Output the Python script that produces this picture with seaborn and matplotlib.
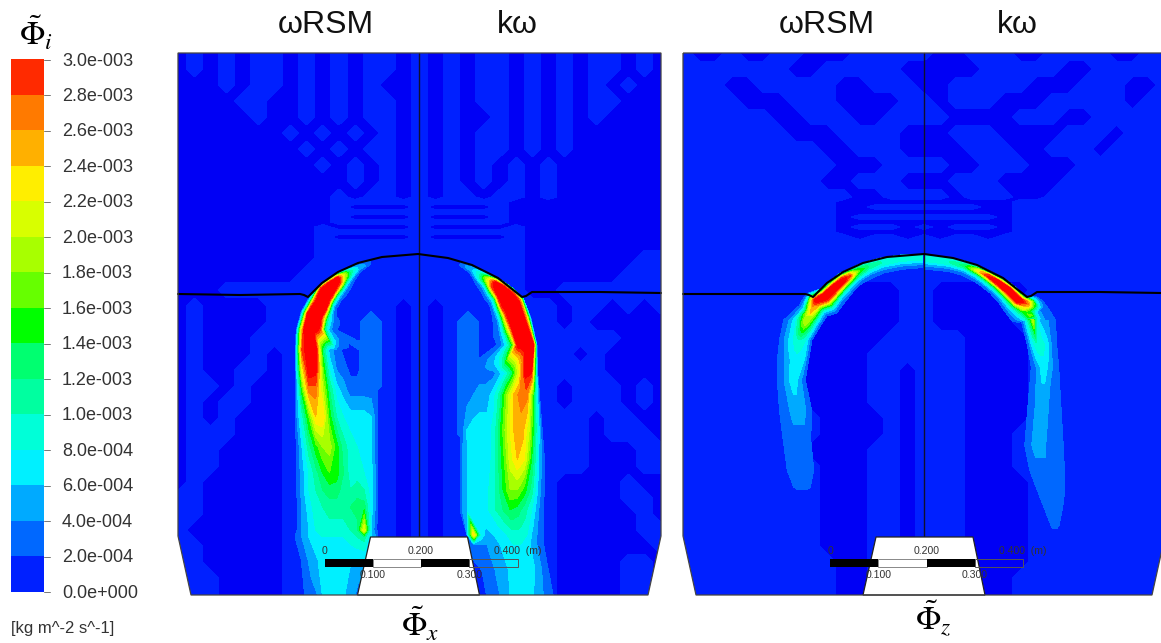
import numpy as np
import matplotlib
matplotlib.use("Agg")
import matplotlib.pyplot as plt
from matplotlib.colors import ListedColormap
from matplotlib.patches import Polygon
import seaborn as sns

# ---------- legend ----------
LEGEND_LABELS = ["3.0e-003", "2.8e-003", "2.6e-003", "2.4e-003", "2.2e-003", "2.0e-003", "1.8e-003", "1.6e-003",
                 "1.4e-003", "1.2e-003", "1.0e-003", "8.0e-004", "6.0e-004", "4.0e-004", "2.0e-004", "0.0e+000"]
LEGEND_BANDS = [29, 27, 25, 23, 21, 19, 17, 15, 13, 11, 9, 7, 5, 3, 1]
BAND_COLORS = ["#ff2a00", "#ff7a00", "#ffb000", "#ffee00", "#d8ff00", "#a8ff00", "#66ff00", "#00ff00",
               "#00ff70", "#00ffa0", "#00ffd8", "#00f0ff", "#00aaff", "#0068ff", "#0020ff"]
DEEP_BLUE = "#0000f5"
MID_BLUE = "#0020ff"
LIGHT_BLUE = "#0068ff"
CORE_RED = "#ff0000"
BASE_LEVELS = [0, 1, 2, 4]
JET_LEVELS = [2, 4, 6, 8, 10, 12, 14, 16, 18, 20, 22, 24, 26, 28, 30, 40]

# ---------- background field, one character per grid node (. deep, - mid, + light) ----------
BASE_Y = [53, 69, 85, 101, 117, 133, 149, 165, 181, 197, 202, 207, 212, 217, 222, 227, 232, 237, 242,
          258, 274, 290, 306, 322, 338, 354, 370, 386, 402, 418, 434, 450, 466, 482, 498, 514, 530, 546, 562, 578, 596]
BASE_LEFT = [
    ".-.-.--.-.-.--.-.-.--.-.-.--.-.",
    ".-.-.--.-.-.--.-.-.--.-.-.--.-.",
    "...-.--.-.-.-..-.-.--.-.-.-.-..",
    "....--..-.-.--.-.-.--.-.-.--...",
    ".....-..-.-.--.-.-..-.-.-.-....",
    ".......-.-.-.-.-.-.--.-.-......",
    "........-.-.--.-.-.--.-.-......",
    ".........-.-.-.-.-.-.-.-.......",
    "...........-.-.-.-.-.-.-.......",
    "..........-.--.-.--.--.-.......",
    "..........-----------..........",
    "..........-....-....-..........",
    "..........-----------..........",
    "..........-....-....-..........",
    "..........-----------..........",
    ".........-.....-.....-.........",
    ".........-------------.........",
    ".........-.....-.....-.........",
    ".........-------------.........",
    ".........-------------.......--",
    "........--------------......---",
    "...-------------------..-------",
    ".-....--------.-.-------.--.-.-",
    ".-....------+-.-.-+-----.-.....",
    ".-...-------+-.-.-+---------...",
    ".-...-.-----+-.-.-+------.-....",
    ".-..--.-----+-.-.-+--------....",
    ".--.-..-----+-.-.-+-----.---.-.",
    ".-.--..-------.-.-+-----.---.-.",
    ".-.-...-------.-.-+-------.--..",
    ".---...-------.-.-+-------.---.",
    ".--....-------.-.---------...---.",
    ".--....-------.-.---------...---.",
    ".-.....-------.-.-------....-..",
    "--.....-------.-.-------....--.",
    "--.....-------.-.-------.....-.",
    "-......-------.-.-------.....--",
    "--.....-------.-.-------......-",
    "--.....-------.-.-------....--.",
    "---....-------.-.-------....--.",
    "---....-------.-.-------....--.",
]
BASE_RIGHT = [
    "-..-..--...-----..---..----..--",
    "-------..-----.....-----..-----",
    "---..-----..---..-----...---..-",
    "----...---....--.---...-----.--",
    "------..---..----....---..-----",
    "-------...----...---....---.---",
    "---------..---....---..---.----",
    "----------...----..---...------",
    "---------..---...---....-------",
    "-----------..----.---..--------",
    "----------...........----------",
    "----------..-------..----------",
    "----------...........----------",
    "----------.---------.----------",
    "----------...........----------",
    "----------.---.-.---.----------",
    "----------...........----------",
    "-----------.--.-.--.-----------",
    "-------------------------------",
    "-------------------------------",
    "-------------------------------",
    "----------....--......---------",
    "---------.....--.....----------",
    "--------......--.....----------",
    "--------.....-----....---------",
    "--------....------....---------",
    "--------....--.---....---------",
    "--------....--.---....---------",
    "--------....--.---....---------",
    "---------....-.---....---------",
    "---------....-.---...----------",
    "--------....--.---...----------",
    "---------...--.---...----------",
    "---------...--.---....---------",
    "---------...--.---....---------",
    "---------...--.---....---------",
    "---------...--.---....---------",
    "---------...--.---....---------",
    "----------..------....---------",
    "----------..-------..----------",
    "----------..-------..----------",
]
BASE_VALUE = {".": 0.5, "-": 1.5, "+": 3.0}

# ---------- plume sections: outer end, inner end, values in 1e-4 at 13 stations ----------
J1_OX = [370, 358, 349, 342, 335, 327, 319, 309, 301, 296, 295, 295, 295, 295, 295, 295, 295, 295, 295, 295, 298, 298]
J1_OY = [260, 263, 267, 270, 274, 280, 286, 297, 312, 330, 350, 370, 390, 417, 447, 473, 490, 507, 530, 537, 560, 596]
J1_IX = [372, 362, 355, 351, 347, 342, 338, 338, 340, 345, 378, 378, 378, 378, 378, 378, 378, 378, 378, 378, 378, 378]
J1_IY = [268, 276, 284, 291, 297, 303, 311, 318, 322, 330, 350, 370, 390, 417, 447, 473, 490, 507, 530, 537, 560, 596]
J1_V = [
    [0, 1, 2, 3, 3, 3, 2, 1, 0, 0, 0, 0, 0],
    [1, 3, 4, 5, 5, 5, 4, 3, 2, 1, 0, 0, 0],
    [2, 5, 9, 11, 11, 10, 8, 6, 4, 3, 2, 1, 0],
    [3, 10, 18, 21, 20, 17, 13, 9, 6, 4, 3, 2, 0],
    [6, 20, 31, 32, 31, 28, 22, 15, 9, 5, 3, 2, 0],
    [10, 26, 33, 33, 33, 33, 30, 22, 12, 7, 4, 2, 1],
    [12, 28, 33, 33, 33, 33, 32, 28, 16, 8, 4, 2, 1],
    [1, 10, 26, 32, 33, 33, 33, 30, 18, 8, 4, 3, 1],
    [1, 14, 30, 33, 33, 33, 32, 24, 12, 7, 4, 3, 2],
    [1, 18, 31, 33, 33, 32, 28, 12, 6, 3, 2, 1, 1],
    [1, 28, 33, 32, 13, 5, 3, 1.5, 1.5, 1.5, 3, 3, 3],
    [1, 22, 32, 31, 17, 8, 4, 3, 1.5, 1.5, 3, 3, 3],
    [1, 15, 27, 27, 20, 12, 7, 5, 3, 3, 3, 3, 3],
    [2, 9, 16, 24, 24, 15, 10, 8, 7, 7, 7, 6, 2],
    [1, 6, 11, 15, 18, 19, 15, 11, 9, 8, 7, 6, 2],
    [1, 5, 8, 11, 14, 16, 15, 12, 9, 9, 8, 7, 2],
    [1, 5, 8, 10, 12, 13, 13, 11, 10, 11, 10, 7, 2],
    [1, 4, 7, 9, 10, 11, 11, 11, 12, 13, 13, 7, 2],
    [1, 4, 6, 8, 9, 9, 9, 9, 10, 11, 22, 6, 1],
    [2, 4, 6, 7, 8, 8, 8, 8, 9, 10, 11, 6, 3],
    [1, 3, 5, 6, 7, 7, 7, 7, 6, 6, 6, 5, 3],
    [1, 2, 3, 4, 7, 7, 7, 6, 5, 3, 3, 3, 3],
]
J2_OX = [461, 473, 482, 490, 498, 507, 516, 523, 531, 537, 538, 540, 543, 546, 546, 546, 547, 547, 555, 560]
J2_OY = [261, 265, 270, 274, 278, 284, 291, 298, 318, 345, 373, 395, 430, 460, 490, 510, 535, 545, 570, 596]
J2_IX = [458, 468, 474, 480, 483, 488, 490, 492, 493, 497, 460, 460, 460, 460, 460, 460, 467, 467, 475, 480]
J2_IY = [270, 277, 286, 293, 300, 307, 317, 325, 335, 345, 373, 395, 430, 460, 490, 510, 535, 545, 570, 596]
J2_V = [
    [0, 1, 2, 3, 3, 3, 2, 1, 0, 0, 0, 0, 0],
    [1, 3, 4, 5, 5, 5, 4, 3, 2, 1, 0, 0, 0],
    [2, 5, 9, 10, 10, 9, 8, 6, 4, 3, 2, 1, 0],
    [3, 10, 18, 20, 20, 17, 13, 9, 6, 4, 3, 2, 0],
    [6, 20, 30, 31, 30, 28, 22, 15, 9, 5, 3, 2, 0],
    [10, 26, 33, 33, 33, 33, 30, 22, 12, 7, 4, 2, 1],
    [12, 28, 33, 33, 33, 33, 32, 28, 16, 8, 4, 2, 1],
    [8, 26, 33, 33, 33, 33, 33, 28, 18, 8, 4, 3, 1],
    [2, 22, 33, 33, 33, 33, 32, 24, 16, 8, 4, 3, 2],
    [2, 30, 33, 33, 33, 33, 30, 18, 12, 8, 5, 3, 2],
    [1, 30, 31, 21, 13, 8, 5, 3, 3, 3, 3, 3, 3],
    [1, 15, 27, 27, 24, 18, 11, 7, 5, 5, 4, 3, 2],
    [1, 10, 20, 25, 25, 21, 15, 9, 7, 7, 7, 6, 2],
    [1, 6, 14, 22, 24, 21, 15, 10, 7, 7, 7, 6, 3],
    [1, 5, 11, 15, 18, 18, 14, 10, 8, 8, 7, 6, 3],
    [1, 4, 8, 11, 13, 14, 12, 10, 8, 8, 7, 6, 3],
    [1, 3, 5, 8, 9, 9, 8, 7, 6, 5, 8, 24, 4],
    [1, 3, 5, 7, 8, 8, 7, 6, 5, 4, 4, 3, 3],
    [1, 2, 4, 6, 7, 7, 7, 6, 5, 4, 3, 2, 1],
    [1, 2, 3, 5, 6, 7, 7, 7, 5, 4, 3, 2, 1],
]
J3_OX = [923, 900, 880, 866, 855, 847, 840, 830, 820, 808, 798, 782, 778, 776, 776, 778, 782, 786, 792, 798]
J3_OY = [254, 255, 258, 262, 266, 270, 273, 281, 289, 293, 305, 320, 340, 360, 380, 410, 440, 470, 487, 492]
J3_IX = [923, 903, 885, 875, 866, 860, 854, 848, 840, 832, 828, 824, 815, 810, 808, 813, 812, 815, 812, 807]
J3_IY = [272, 274, 278, 283, 288, 293, 300, 306, 318, 322, 325, 323, 340, 360, 380, 410, 440, 470, 487, 492]
J3_V = [
    [5, 8, 9, 9, 8, 7, 5, 4, 3, 2, 1, 0, 0],
    [5, 8, 9, 9, 8, 7, 5, 4, 3, 2, 1, 0, 0],
    [4, 8, 10, 10, 9, 7, 5, 4, 3, 2, 1, 0, 0],
    [4, 9, 12, 12, 10, 8, 6, 4, 3, 2, 1, 0, 0],
    [4, 11, 15, 17, 14, 11, 8, 5, 3, 2, 1, 0, 0],
    [5, 14, 24, 28, 24, 16, 10, 6, 4, 2, 1, 0, 0],
    [5, 16, 28, 32, 30, 22, 14, 8, 5, 3, 1, 0, 0],
    [5, 18, 30, 33, 33, 26, 18, 10, 6, 3, 2, 1, 0],
    [4, 16, 30, 33, 32, 27, 19, 12, 7, 4, 2, 1, 0],
    [3, 9, 22, 30, 30, 26, 18, 11, 6, 3, 1, 0, 0],
    [1, 3, 6, 12, 20, 24, 20, 15, 9, 5, 2, 1, 0],
    [1, 3, 4, 6, 8, 12, 18, 20, 17, 12, 7, 3, 1],
    [1, 3, 4, 5, 7, 8, 9, 10, 9, 8, 5, 2, 1],
    [1, 3, 4, 4, 5, 6, 7, 7, 7, 7, 6, 3, 1],
    [1, 3, 3, 4, 5, 6, 7, 7, 6, 5, 3, 2, 1],
    [1, 3, 3, 3, 4, 5, 5, 5, 5, 5, 3, 3, 1],
    [1, 3, 3, 3, 3, 3, 3, 3, 3, 3, 3, 3, 1],
    [1, 3, 3, 3, 3, 3, 3, 3, 3, 3, 3, 3, 1],
    [1, 2, 3, 3, 3, 3, 3, 3, 3, 3, 3, 2, 1],
    [1, 1, 1, 1, 1, 1, 1, 1, 1, 1, 1, 1, 1],
]
J4_OX = [925, 950, 965, 979, 990, 1002, 1013, 1025, 1037, 1048, 1057, 1058, 1060, 1062, 1065, 1066, 1065, 1060, 1056]
J4_OY = [255, 258, 261, 266, 271, 278, 285, 296, 297, 305, 320, 345, 367, 400, 445, 470, 500, 525, 532]
J4_IX = [925, 948, 961, 970, 978, 986, 993, 1000, 1005, 1014, 1021, 1026, 1030, 1027, 1023, 1028, 1040, 1050, 1053]
J4_IY = [274, 276, 280, 285, 291, 298, 307, 316, 327, 325, 320, 345, 367, 400, 445, 470, 500, 525, 532]
J4_V = [
    [5, 9, 10, 10, 8, 7, 5, 4, 3, 2, 1, 0, 0],
    [5, 9, 10, 10, 9, 7, 5, 4, 3, 2, 1, 0, 0],
    [4, 9, 11, 13, 11, 8, 6, 4, 3, 2, 1, 0, 0],
    [5, 12, 20, 22, 17, 11, 7, 5, 3, 2, 1, 0, 0],
    [5, 15, 28, 30, 22, 14, 9, 6, 3, 2, 1, 0, 0],
    [6, 20, 31, 33, 28, 18, 11, 7, 4, 2, 1, 0, 0],
    [6, 20, 33, 33, 30, 20, 12, 7, 4, 2, 1, 0, 0],
    [5, 20, 32, 33, 30, 21, 13, 8, 5, 3, 1, 0, 0],
    [3, 8, 20, 26, 24, 20, 13, 8, 5, 3, 1, 0, 0],
    [1, 3, 3, 4, 6, 10, 18, 15, 10, 6, 3, 1, 0],
    [1, 3, 3, 4, 4, 5, 6, 10, 20, 14, 9, 5, 2],
    [1, 3, 3, 5, 7, 8, 9, 9, 9, 8, 6, 3, 1],
    [1, 3, 3, 4, 5, 6, 7, 7, 6, 5, 3, 3, 1],
    [1, 3, 3, 3, 3, 5, 5, 5, 5, 4, 3, 3, 1],
    [1, 3, 3, 3, 3, 3, 5, 5, 5, 5, 3, 3, 1],
    [1, 3, 3, 3, 3, 3, 3, 3, 3, 3, 3, 3, 1],
    [1, 3, 3, 3, 3, 3, 3, 3, 3, 3, 3, 3, 1],
    [1, 2, 3, 3, 3, 3, 3, 3, 3, 3, 3, 2, 1],
    [1, 1, 1, 1, 1, 1, 1, 1, 1, 1, 1, 1, 1],
]

# ---------- free surface ----------
SURF1_X = [178, 240, 300, 304, 308, 312, 322, 338, 358, 382, 418, 448, 472, 498, 522, 526, 532, 600, 661]
SURF1_Y = [294, 295, 294, 295, 297, 293, 283, 272, 263, 257, 254, 258, 265, 278, 297, 296, 292, 292, 293]
SURF2_X = [683, 745, 805, 809, 813, 817, 827, 843, 863, 887, 924, 953, 977, 1003, 1027, 1031, 1037, 1100, 1161]
SURF2_Y = [294, 294, 294, 295, 297, 293, 283, 272, 263, 257, 254, 258, 265, 278, 297, 296, 292, 292, 293]

TITLES = ["ωRSM", "kω", "ωRSM", "kω"]
TITLE_X = [326, 517, 827, 1017]
BAR_LABELS = ["0", "0.200", "0.400  (m)", "0.100", "0.300"]

sns.set_theme(style="white")
plt.rcParams["font.family"] = ["Liberation Sans", "DejaVu Sans"]
plt.rcParams["mathtext.fontset"] = "stix"

fig = plt.figure(figsize=(11.61, 6.43), dpi=100, facecolor="white")
ax = fig.add_axes([0, 0, 1, 1])
ax.set_xlim(0, 1161)
ax.set_ylim(643, 0)
ax.axis("off")


def draw_panel(x0, x_center, x1, base_rows, jets, surf_x, surf_y):
    outline = Polygon([(x0, 53), (x1, 53), (x1, 536), (x1 - 13, 595), (x0 + 13, 595), (x0, 536)],
                      closed=True, fc="none", ec="#444444", lw=0.9, zorder=6)
    ax.add_patch(outline)
    clip = Polygon(outline.get_xy(), closed=True, transform=ax.transData)
    xs = np.linspace(x0, x1, 31)
    rows = [[BASE_VALUE[c] for c in r.ljust(31, ".")[:31]] for r in base_rows]
    cs = ax.contourf(xs, BASE_Y, np.array(rows), levels=BASE_LEVELS,
                     colors=[DEEP_BLUE, MID_BLUE, LIGHT_BLUE], zorder=1)
    cs.set_clip_path(clip)
    fractions = np.linspace(0, 1, 13)
    for ox, oy, ix, iy, vals in jets:
        ox, oy, ix, iy = map(np.array, (ox, oy, ix, iy))
        gx = ox[:, None] + (ix - ox)[:, None] * fractions
        gy = oy[:, None] + (iy - oy)[:, None] * fractions
        cj = ax.contourf(gx, gy, np.array(vals, float), levels=JET_LEVELS,
                         colors=BAND_COLORS[::-1][1:] + [CORE_RED], zorder=2)
        cj.set_clip_path(clip)
    # symmetry line, wall block, free surface
    ax.plot([x_center, x_center], [53, 537], color="#101030", lw=1.0, zorder=3)
    ax.plot(surf_x, surf_y, color="black", lw=1.5, zorder=4)
    c = x_center
    ax.add_patch(Polygon([(c - 48, 537), (c + 49, 537), (c + 61, 595), (c - 61, 595)], closed=True,
                         fc="white", ec="#222222", lw=0.9, zorder=5))
    # scale bar
    bx = c - 94
    seg = 48.3
    ax.add_patch(plt.Rectangle((bx, 559), seg, 8, fc="black", ec="none", zorder=7))
    ax.add_patch(plt.Rectangle((bx + seg, 559), seg, 8, fc="white", ec="#888888", lw=0.7, zorder=7))
    ax.add_patch(plt.Rectangle((bx + 2 * seg, 559), seg, 8, fc="black", ec="none", zorder=7))
    ax.add_patch(plt.Rectangle((bx + 3 * seg, 559), seg, 8, fc="none", ec="#555555", lw=0.7, zorder=7))
    tick = dict(fontsize=7.6, color="#333333", zorder=8, va="center")
    ax.text(bx, 551, BAR_LABELS[0], ha="center", **tick)
    ax.text(bx + 2 * seg, 551, BAR_LABELS[1], ha="center", **tick)
    ax.text(bx + 4 * seg - 24, 551, BAR_LABELS[2], ha="left", **tick)
    ax.text(bx + seg, 575, BAR_LABELS[3], ha="center", **tick)
    ax.text(bx + 3 * seg, 575, BAR_LABELS[4], ha="center", **tick)


draw_panel(178, 418.5, 661, BASE_LEFT,
           [(J1_OX, J1_OY, J1_IX, J1_IY, J1_V), (J2_OX, J2_OY, J2_IX, J2_IY, J2_V)], SURF1_X, SURF1_Y)
draw_panel(683, 924, 1165, BASE_RIGHT,
           [(J3_OX, J3_OY, J3_IX, J3_IY, J3_V), (J4_OX, J4_OY, J4_IX, J4_IY, J4_V)], SURF2_X, SURF2_Y)

# legend strip drawn as a one-column seaborn heatmap
cax = fig.add_axes([11 / 1161, (643 - 592) / 643, 33 / 1161, 533 / 643])
sns.heatmap(np.array(LEGEND_BANDS)[:, None], ax=cax, cmap=ListedColormap(BAND_COLORS[::-1]), vmin=0, vmax=30,
            cbar=False, xticklabels=False, yticklabels=False)
for i, lab in enumerate(LEGEND_LABELS):
    y = 60 + i * (592 - 60) / 15
    ax.plot([44, 50], [y, y], color="#777777", lw=0.7)
    ax.text(62, y + 1, lab, fontsize=13, color="#333333", va="center", ha="left")
ax.text(11, 629, "[kg m^-2 s^-1]", fontsize=12, color="#333333", va="center", ha="left")

for t, x in zip(TITLES, TITLE_X):
    ax.text(x, 25, t, fontsize=23, color="#111111", ha="center", va="center")
ax.text(36, 33, r"$\tilde{\Phi}_{i}$", fontsize=24, color="black", ha="center", va="center")
ax.text(420, 624, r"$\tilde{\Phi}_{x}$", fontsize=24, color="black", ha="center", va="center")
ax.text(933, 618, r"$\tilde{\Phi}_{z}$", fontsize=24, color="black", ha="center", va="center")

fig.savefig("out.png", dpi=100, facecolor="white")
